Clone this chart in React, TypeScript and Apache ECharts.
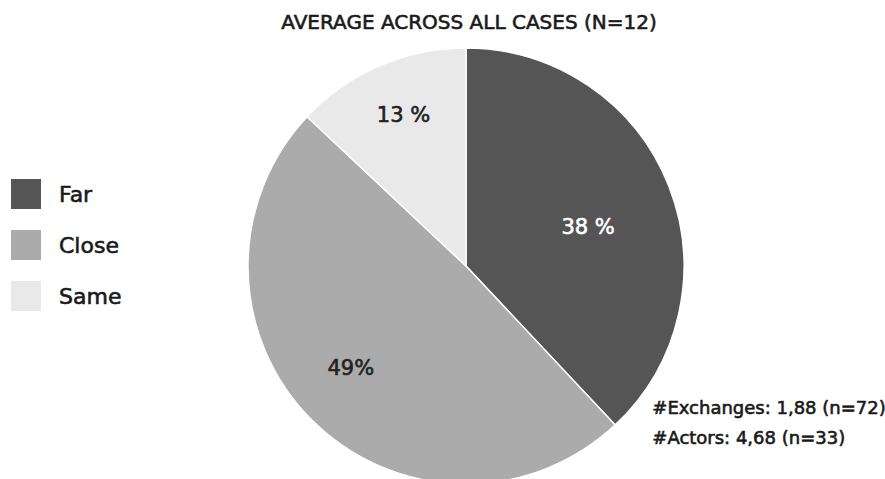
import React, { useEffect, useRef } from "react";
import * as echarts from "echarts";

const categories = ["Far", "Close", "Same"];
const values = [38, 49, 13];
const labelTexts = ["38 %", "49%", "13 %"];
const sliceColors = ["#555555", "#ababab", "#e9e9e9"];
const labelColors = ["#ffffff", "#222222", "#222222"];
const labelOffsets = [[18, 2], [-36, 23], [-18, -48]];
const titleText = "AVERAGE ACROSS ALL CASES (N=12)";
const notes = ["#Exchanges: 1,88 (n=72)", "#Actors: 4,68 (n=33)"];

const FONT = "'DejaVu Sans', sans-serif";
const INK = "#1a1a1a";
const THICK = 0.6;

export default function App() {
  const ref = useRef<HTMLDivElement>(null);
  useEffect(() => {
    document.body.style.margin = "0";
    const chart = echarts.init(ref.current!, null, { renderer: "svg" });
    chart.setOption({
      animation: false,
      backgroundColor: "#ffffff",
      title: {
        text: titleText,
        left: 469,
        textAlign: "center",
        top: 12,
        padding: 0,
        textStyle: {
          fontFamily: FONT, fontSize: 20, fontWeight: "normal", color: INK,
          textBorderColor: INK, textBorderWidth: THICK,
        },
      },
      legend: {
        orient: "vertical",
        left: 9,
        top: 177,
        padding: 0,
        itemWidth: 32,
        itemHeight: 32,
        itemGap: 17,
        icon: "rect",
        textStyle: {
          fontFamily: FONT, fontSize: 22, color: INK, padding: [0, 0, 0, 12],
          textBorderColor: INK, textBorderWidth: THICK,
        },
        data: categories,
      },
      graphic: notes.map((t, i) => ({
        type: "text",
        left: 652,
        top: 398 + i * 30,
        style: {
          text: t, fontFamily: FONT, fontSize: 18, fill: INK,
          stroke: INK, lineWidth: THICK,
        },
      })),
      series: [
        {
          type: "pie",
          center: [466, 266],
          radius: [0, 218],
          startAngle: 90,
          clockwise: true,
          avoidLabelOverlap: false,
          itemStyle: { borderColor: "#ffffff", borderWidth: 1.5 },
          label: {
            show: true,
            position: "inside",
            fontFamily: FONT,
            fontSize: 21,
            textBorderWidth: THICK,
          },
          labelLine: { show: false },
          emphasis: { disabled: true },
          data: categories.map((c, i) => ({
            name: c,
            value: values[i],
            itemStyle: { color: sliceColors[i] },
            label: {
              formatter: labelTexts[i],
              color: labelColors[i],
              textBorderColor: labelColors[i],
              offset: labelOffsets[i],
            },
          })),
        },
      ],
    });
    return () => chart.dispose();
  }, []);
  return <div ref={ref} style={{ width: 885, height: 479 }} />;
}
